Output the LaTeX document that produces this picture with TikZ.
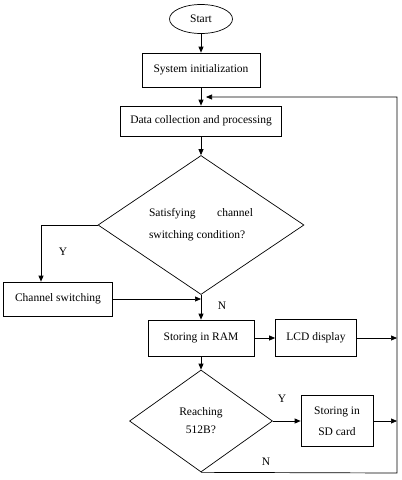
\documentclass[tikz,border=0pt]{standalone}
\usepackage{fontspec}
\setmainfont{Liberation Serif}
\usetikzlibrary{shapes.geometric, arrows.meta}

\begin{document}
\begin{tikzpicture}[x=1pt, y=-1pt,
  every node/.style={font=\fontsize{11.5}{14}\selectfont},
  box/.style={draw, rectangle, line width=0.7pt, inner sep=0pt, align=center},
  decision/.style={draw, diamond, line width=0.7pt, inner sep=0pt},
  arrow/.style={draw, line width=0.7pt, -{Triangle[length=6pt,width=5pt]}}]

  \useasboundingbox (0,0) rectangle (402,480);

  % Main column
  \node[draw, ellipse, line width=0.7pt, inner sep=0pt, minimum width=63pt, minimum height=29pt] (start) at (201,19) {Start};
  \node[box, minimum width=118pt, minimum height=34pt] (init) at (201,70) {System initialization};
  \node[box, minimum width=161pt, minimum height=30pt] (data) at (201,121) {Data collection and processing};
  \node[decision, minimum width=206pt, minimum height=139pt, text width=104pt, align=justify,
        font=\fontsize{11.5}{22}\selectfont] (cond) at (201,225) {Satisfying channel switching condition?};
  \node[box, minimum width=109pt, minimum height=34pt] (chsw) at (58,299) {Channel switching};
  \node[box, minimum width=106pt, minimum height=36pt] (ram) at (201,338) {Storing in RAM};
  \node[box, minimum width=81pt, minimum height=37pt] (lcd) at (316,338) {LCD display};
  \node[decision, minimum width=143pt, minimum height=102pt, align=center,
        font=\fontsize{11.5}{18}\selectfont] (full) at (201,421) {Reaching\\512B?};
  \node[box, minimum width=72pt, minimum height=51pt, font=\fontsize{11.5}{21}\selectfont] (sd) at (337,421) {Storing in\\SD card};

  % Loop-back corners
  \coordinate (ysplit) at (41,225);
  \coordinate (ne) at (397,97);
  \coordinate (se) at (397,473);
  \coordinate (back) at (206,97);

  % Connectors
  \draw[arrow] (start) -- (init);
  \draw[arrow] (init) -- (data);
  \draw[arrow] (data) -- (cond);
  \draw[arrow] (cond.west) -- (ysplit) -- (ysplit |- chsw.north);
  \draw[arrow] (chsw.east) -- (chsw.east -| cond.south);
  \draw[arrow] (cond.south) -- (ram.north);
  \draw[arrow] (ram) -- (lcd);
  \draw[arrow] (lcd.east) -- (lcd.east -| ne);
  \draw[arrow] (ram) -- (full);
  \draw[arrow] (full.east) -- (sd.west);
  \draw[arrow] (sd.east) -- (sd.east -| ne);
  \draw[arrow] (full.south) -- (se) -- (ne) -- (back);

  % Labels
  \node (ylbl1) at (63,252) {Y};
  \node (nlbl1) at (222,306) {N};
  \node (ylbl2) at (282,399) {Y};
  \node (nlbl2) at (266,462) {N};
\end{tikzpicture}
\end{document}
